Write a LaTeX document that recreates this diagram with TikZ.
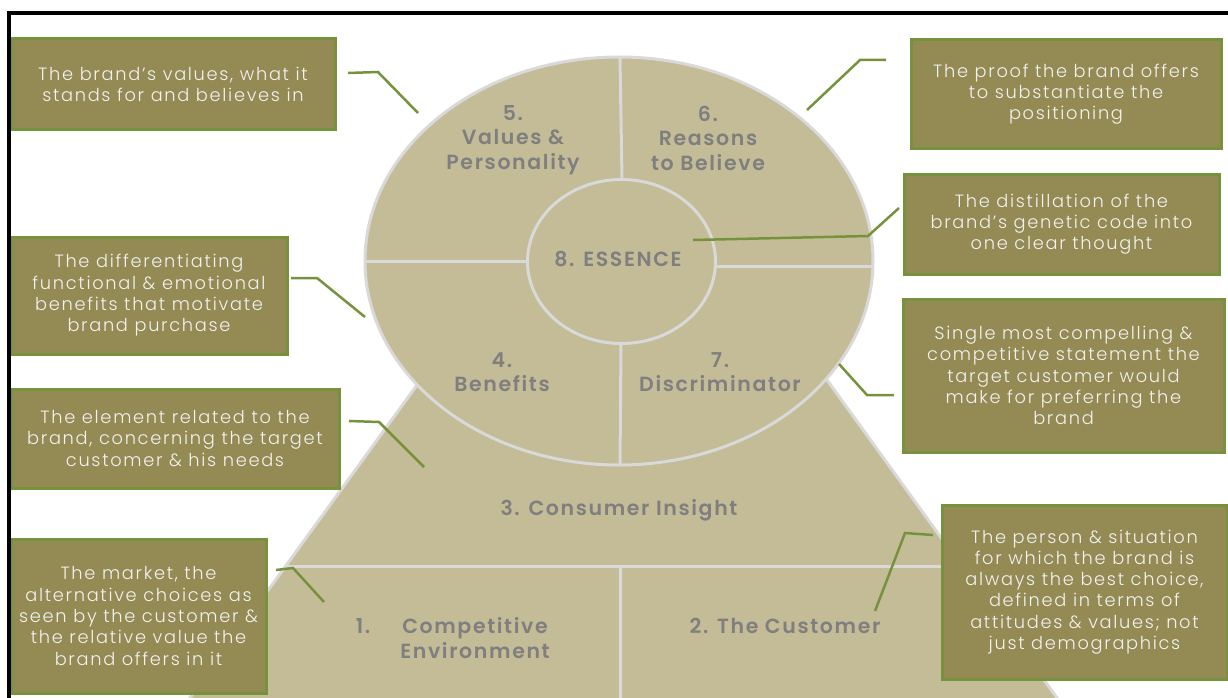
\documentclass[tikz,border=0pt]{standalone}
\usepackage{fontspec}
\setmainfont{Poppins}
\newfontfamily\boxfont{Poppins}[UprightFont=* Light, LetterSpace=9.5]
\newfontfamily\labfont{Poppins}[UprightFont=* SemiBold, LetterSpace=8]
\definecolor{tanfill}{HTML}{C4BC97}
\definecolor{edgegray}{HTML}{D9D9D9}
\definecolor{labgray}{HTML}{7F7F7F}
\definecolor{boxfill}{HTML}{948A54}
\definecolor{boxedge}{HTML}{76923C}
\definecolor{boxtext}{HTML}{F2F2F2}
\definecolor{connc}{HTML}{76923C}
\begin{document}
\begin{tikzpicture}[x=1pt,y=-1pt,
  tanshape/.style={fill=tanfill, draw=edgegray, line width=3pt},
  divider/.style={draw=edgegray, line width=3pt},
  lbl/.style={text=labgray, font=\labfont\fontsize{20.5}{24.5}\selectfont, align=center, inner sep=0pt},
  desc/.style={fill=boxfill, draw=boxedge, line width=3pt, text=boxtext,
    font=\boxfont\fontsize{17.8}{21.3}\selectfont, align=center, inner sep=0pt},
  conn/.style={draw=connc, line width=2.5pt},
]
\useasboundingbox (0,0) rectangle (1228,698);
\clip (0,0) rectangle (1228,698);
% trapezoid
\draw[tanshape] (174,720) -- (417,385) -- (520,250) -- (725,250) -- (827,380) -- (1073,720) -- cycle;
\coordinate (hl) at (286,566);
\coordinate (hr) at (961,566);
\draw[divider] (hl) -- (hr);
\coordinate (vt) at (620,566);
\coordinate (vb) at (620,705);
\draw[divider] (vt) -- (vb);
% big ellipse
\draw[tanshape] (619,261) ellipse [x radius=254, y radius=204];
\coordinate (d1a) at (620,58);  \coordinate (d1b) at (622,180);
\coordinate (d2a) at (365,261); \coordinate (d2b) at (528,261);
\coordinate (d3a) at (716,266); \coordinate (d3b) at (873,266);
\coordinate (d4a) at (621,344); \coordinate (d4b) at (620,465);
\draw[divider] (d1a) -- (d1b);
\draw[divider] (d2a) -- (d2b);
\draw[divider] (d3a) -- (d3b);
\draw[divider] (d4a) -- (d4b);
\draw[tanshape] (621.5,261.5) ellipse [x radius=94, y radius=82];
% labels
\node[lbl] (l5) at (513,140) {5.\\Values \&\\Personality};
\node[lbl] (l6) at (708,138) {6.\\Reasons\\to Believe};
\node[lbl] (l8) at (618,259) {8. ESSENCE};
\node[lbl] (l4) at (502,372) {4.\\Benefits};
\node[lbl] (l7) at (720,372) {7.\\Discriminator};
\node[lbl] (l3) at (619,510) {3. Consumer Insight};
\node[lbl] (l1n) at (363,626) {1.};
\node[lbl] (l1) at (475,638) {Competitive\\Environment};
\node[lbl] (l2) at (785,626) {2. The Customer};
% description boxes
\node[desc, minimum width=324, minimum height=91] (bA) at (173,84.5)
  {The brand’s values, what it\\stands for and believes in};
\node[desc, minimum width=310, minimum height=108] (bB) at (1066,94)
  {The proof the brand offers\\to substantiate the\\positioning};
\node[desc, minimum width=315, minimum height=100] (bC) at (1061.5,224)
  {The distillation of the\\brand’s genetic code into\\one clear thought};
\node[desc, minimum width=321, minimum height=153] (bD) at (1063.5,375.5)
  {Single most compelling \&\\competitive statement the\\target customer would\\make for preferring the\\brand};
\node[desc, minimum width=276, minimum height=117] (bE) at (149,295.5)
  {The differentiating\\functional \& emotional\\benefits that motivate\\brand purchase};
\node[desc, minimum width=328, minimum height=99] (bF) at (175,438.5)
  {The element related to the\\brand, concerning the target\\customer \& his needs};
\node[desc, minimum width=255, minimum height=154] (bG) at (138.5,616)
  {The market, the\\alternative choices as\\seen by the customer \&\\the relative value the\\brand offers in it};
\node[desc, minimum width=285, minimum height=174] (bH) at (1084.5,592)
  {The person \& situation\\for which the brand is\\always the best choice,\\defined in terms of\\attitudes \& values; not\\just demographics};
% connectors
\coordinate (cA1) at (348,73);  \coordinate (cA2) at (378,72);  \coordinate (cA3) at (418,113);
\coordinate (cB1) at (886,60);  \coordinate (cB2) at (860,60);  \coordinate (cB3) at (807,110);
\coordinate (cC1) at (693,240); \coordinate (cC2) at (868,236); \coordinate (cC3) at (899,208);
\coordinate (cD1) at (839,364); \coordinate (cD2) at (867,395); \coordinate (cD3) at (894,395);
\coordinate (cE1) at (291,278); \coordinate (cE2) at (317,278); \coordinate (cE3) at (365,317);
\coordinate (cF1) at (349,421); \coordinate (cF2) at (379,422); \coordinate (cF3) at (424,467);
\coordinate (cG1) at (276,570); \coordinate (cG2) at (293,568); \coordinate (cG3) at (324,602);
\coordinate (cH1) at (933,535); \coordinate (cH2) at (905,533); \coordinate (cH3) at (875,611);
\draw[conn] (cA1) -- (cA2) -- (cA3);
\draw[conn] (cB1) -- (cB2) -- (cB3);
\draw[conn] (cC1) -- (cC2) -- (cC3);
\draw[conn] (cD1) -- (cD2) -- (cD3);
\draw[conn] (cE1) -- (cE2) -- (cE3);
\draw[conn] (cF1) -- (cF2) -- (cF3);
\draw[conn] (cG1) -- (cG2) -- (cG3);
\draw[conn] (cH1) -- (cH2) -- (cH3);
% frame
\coordinate (fr1) at (9,705);
\coordinate (fr2) at (9,13.5);
\coordinate (fr3) at (1235,13.5);
\draw[line width=4pt, black] (fr1) -- (fr2) -- (fr3);
\end{tikzpicture}
\end{document}
